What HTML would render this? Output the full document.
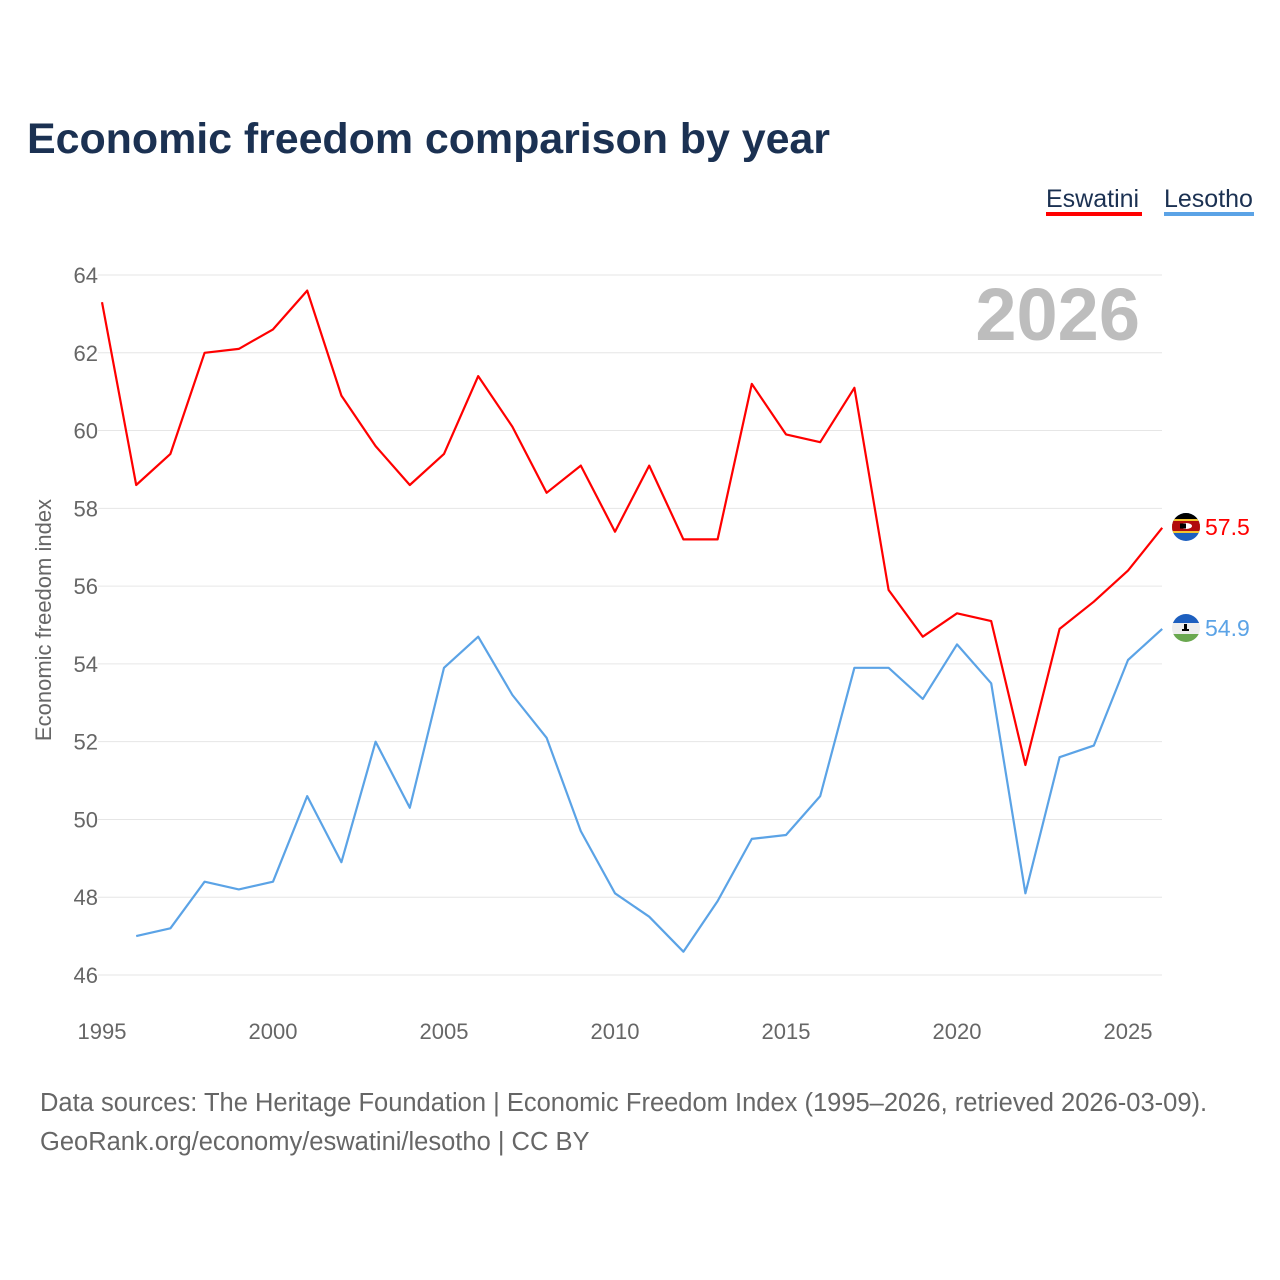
<!DOCTYPE html>
<html><head><meta charset="utf-8">
<style>
body{margin:0;background:#fff;font-family:"Liberation Sans",sans-serif;}
#wrap{position:relative;width:1280px;height:1280px;overflow:hidden;}
</style></head>
<body>
<div id="wrap">
<svg id="chart" width="1280" height="1280" xmlns="http://www.w3.org/2000/svg">
<defs>
<clipPath id="c1"><circle cx="1186" cy="527" r="14"/></clipPath>
<clipPath id="c2"><circle cx="1186" cy="628" r="14"/></clipPath>
</defs>
<text x="27" y="153" font-size="43" font-weight="bold" fill="#1b3152" textLength="803">Economic freedom comparison by year</text>
<g>
<text x="1046" y="207" font-size="25" fill="#1b3152">Eswatini</text>
<rect x="1046" y="212" width="96" height="4" fill="#ff0000"/>
<text x="1164" y="207" font-size="25" fill="#1b3152">Lesotho</text>
<rect x="1164" y="212" width="90" height="4" fill="#5ba3e6"/>
</g>
<text x="1140" y="340" font-size="74" font-weight="bold" fill="#bdbdbd" text-anchor="end">2026</text>
<g id="grid"></g>
<g id="xaxis"></g>
<text transform="translate(51,620) rotate(-90)" font-size="22" fill="#666" text-anchor="middle">Economic freedom index</text>
<g id="series"></g>
<g clip-path="url(#c1)">
<rect x="1172" y="513" width="28" height="28" fill="#1d5fbf"/>
<rect x="1172" y="513" width="28" height="8" fill="#000"/>
<rect x="1172" y="519" width="28" height="14" fill="#f4c430"/>
<rect x="1172" y="521" width="28" height="10" fill="#b10c0c"/>
<ellipse cx="1186" cy="526" rx="6" ry="3" fill="#fff"/>
<rect x="1180" y="523.5" width="6" height="5" fill="#000"/>
</g>
<g clip-path="url(#c2)">
<rect x="1172" y="614" width="28" height="28" fill="#eee"/>
<rect x="1172" y="614" width="28" height="9" fill="#1d5fbf"/>
<rect x="1172" y="634" width="28" height="9" fill="#6aa84f"/>
<rect x="1184" y="624" width="3" height="6" fill="#000"/>
<rect x="1182" y="629" width="7" height="2" fill="#000"/>
</g>
<text x="40" y="1111" font-size="25.5" fill="#666">Data sources: The Heritage Foundation | Economic Freedom Index (1995–2026, retrieved 2026-03-09).</text>
<text x="40" y="1150" font-size="25.5" fill="#666">GeoRank.org/economy/eswatini/lesotho | CC BY</text>
</svg>
</div>
<script>
const years=[1995,1996,1997,1998,1999,2000,2001,2002,2003,2004,2005,2006,2007,2008,2009,2010,2011,2012,2013,2014,2015,2016,2017,2018,2019,2020,2021,2022,2023,2024,2025,2026];
const eswatini=[63.3,58.6,59.4,62.0,62.1,62.6,63.6,60.9,59.6,58.6,59.4,61.4,60.1,58.4,59.1,57.4,59.1,57.2,57.2,61.2,59.9,59.7,61.1,55.9,54.7,55.3,55.1,51.4,54.9,55.6,56.4,57.5];
const lesotho=[null,47.0,47.2,48.4,48.2,48.4,50.6,48.9,52.0,50.3,53.9,54.7,53.2,52.1,49.7,48.1,47.5,46.6,47.9,49.5,49.6,50.6,53.9,53.9,53.1,54.5,53.5,48.1,51.6,51.9,54.1,54.9];
const yTicks=[46,48,50,52,54,56,58,60,62,64];
const xTicks=[1995,2000,2005,2010,2015,2020,2025];
const NS="http://www.w3.org/2000/svg";
const x=v=>102+(v-1995)*(1026/30);
const y=v=>975-(v-46)*(700/18);
function mk(tag,attrs,parent){const e=document.createElementNS(NS,tag);for(const k in attrs)e.setAttribute(k,attrs[k]);parent.appendChild(e);return e;}
const grid=document.getElementById('grid');
yTicks.forEach(t=>{
  const l=mk('line',{x1:98,x2:1162,y1:y(t),y2:y(t),stroke:'#e6e6e6','stroke-width':1},grid);
  
  
  const tx=mk('text',{x:98,y:y(t)+8,'font-size':22,fill:'#666','text-anchor':'end'},grid);
  tx.textContent=t;
  
  
});
const xa=document.getElementById('xaxis');
xTicks.forEach(t=>{
  const tx=mk('text',{x:x(t),y:1039,'font-size':22,fill:'#666','text-anchor':'middle'},xa);
  tx.textContent=t;
  
  
});
const sg=document.getElementById('series');
function draw(vals,color,name){
  let d='';vals.forEach((v,i)=>{if(v==null)return;d+=(d?'L':'M')+x(years[i]).toFixed(1)+','+y(v).toFixed(1);});
  const p=mk('path',{d:d,fill:'none',stroke:color,'stroke-width':2.2,'stroke-linejoin':'round'},sg);
  
  
  const last=vals[vals.length-1];
  const t=mk('text',{x:1205,y:y(last)+7,'font-size':23,fill:color},sg);
  t.textContent=last.toFixed(1);
  
  
}
draw(eswatini,'#ff0000','eswatini');
draw(lesotho,'#5ba3e6','lesotho');
</script>
</body></html>
